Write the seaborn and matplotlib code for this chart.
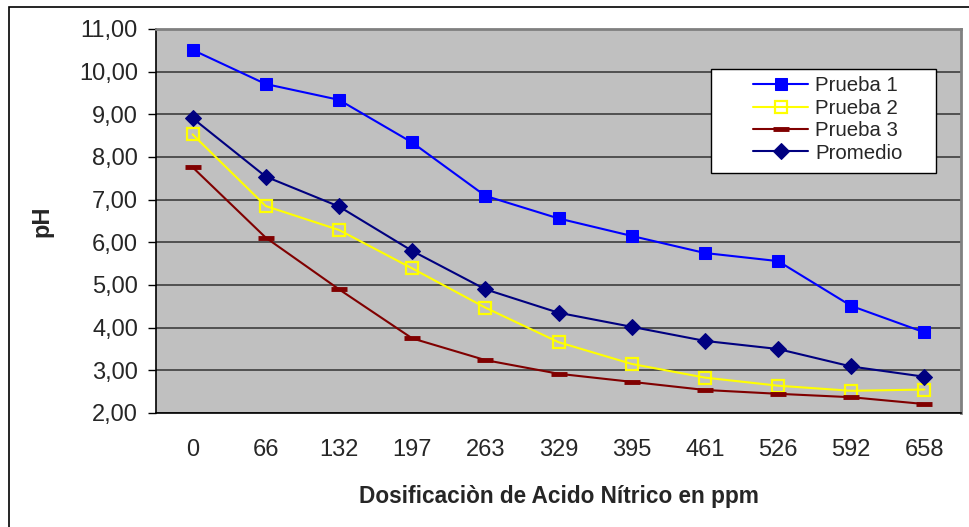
import matplotlib
matplotlib.use("Agg")
import matplotlib.pyplot as plt
from matplotlib.patches import Rectangle
from matplotlib.ticker import FixedLocator, FuncFormatter
import seaborn as sns
import pandas as pd

# Dosificación de ácido nítrico (ppm) y pH medido en cada prueba
dosis = ["0", "66", "132", "197", "263", "329", "395", "461", "526", "592", "658"]
prueba_1 = [10.51, 9.71, 9.34, 8.34, 7.09, 6.56, 6.15, 5.75, 5.56, 4.51, 3.89]
prueba_2 = [8.53, 6.85, 6.29, 5.39, 4.47, 3.66, 3.15, 2.83, 2.64, 2.52, 2.55]
prueba_3 = [7.76, 6.11, 4.90, 3.75, 3.24, 2.92, 2.73, 2.54, 2.45, 2.37, 2.21]
promedio = [8.91, 7.54, 6.84, 5.80, 4.90, 4.35, 4.02, 3.69, 3.50, 3.09, 2.85]

sns.set_theme(style="white")
plt.rcParams["font.family"] = ["Liberation Sans", "DejaVu Sans"]

fig = plt.figure(figsize=(9.7, 5.27), dpi=100)
ax = fig.add_axes([156 / 970, 1 - 413 / 527, (961 - 156) / 970, (413 - 29) / 527])
ax.set_facecolor("#C0C0C0")

series = [
    ("Prueba 1", prueba_1, dict(color="#0000FF", marker="s", markersize=8,
                                markerfacecolor="#0000FF", markeredgecolor="#0000FF")),
    ("Prueba 2", prueba_2, dict(color="#FFFF00", marker="s", markersize=8,
                                markerfacecolor="none", markeredgecolor="#FFFF00",
                                markeredgewidth=1.6)),
    ("Prueba 3", prueba_3, dict(color="#800000", marker="_", markersize=11,
                                markeredgecolor="#800000", markeredgewidth=3.5)),
    ("Promedio", promedio, dict(color="#000080", marker="D", markersize=8,
                                markerfacecolor="#000080", markeredgecolor="#000080")),
]

for nombre, valores, estilo in series:
    df = pd.DataFrame({"dosis": dosis, "pH": valores})
    sns.lineplot(data=df, x="dosis", y="pH", ax=ax, label=nombre, linewidth=1.5,
                 sort=False, zorder=3, **estilo)

# Ejes
ax.set_xlim(-0.5, len(dosis) - 0.5)
ax.set_ylim(2, 11)
ax.yaxis.set_major_locator(FixedLocator(range(2, 12)))
ax.yaxis.set_major_formatter(FuncFormatter(lambda v, p: f"{v:.2f}".replace(".", ",")))
ax.grid(axis="y", color="#333333", linewidth=1.1)
ax.grid(axis="x", visible=False)
ax.set_axisbelow(True)

ax.set_xticks(range(len(dosis)))
ax.set_xticklabels(dosis)
ax.set_xticks([i - 0.5 for i in range(len(dosis) + 1)], minor=True)
ax.tick_params(axis="x", which="major", length=0, pad=19, labelsize=17)
ax.tick_params(axis="x", which="minor", length=6, width=1, color="black", direction="out")
ax.tick_params(axis="y", which="major", length=6, width=1, color="black",
               direction="out", labelsize=17, pad=7, left=True)

for lado in ("left", "bottom"):
    ax.spines[lado].set_color("black")
    ax.spines[lado].set_linewidth(1.2)
for lado in ("top", "right"):
    ax.spines[lado].set_color("#808080")
    ax.spines[lado].set_linewidth(2)

ax.set_xlabel("Dosificaciòn de Acido Nítrico en ppm", fontsize=16.3,
              fontweight="bold", labelpad=17)
ax.set_ylabel("pH", fontsize=17, fontweight="bold", labelpad=18)

# Leyenda con marco propio (relleno holgado a la izquierda)
ax.add_patch(Rectangle((0.6894, 0.625), 0.9689 - 0.6894, 0.8958 - 0.625,
                       transform=ax.transAxes, facecolor="white", edgecolor="black",
                       linewidth=1, zorder=4))
leg = ax.legend(loc="upper left", bbox_to_anchor=(0.7416, 0.877), fontsize=14.7,
                frameon=False, handlelength=2.7, handletextpad=0.35,
                labelspacing=0.17, borderpad=0, borderaxespad=0)
leg.set_zorder(5)

# Marco exterior del gráfico
fig.patches.append(Rectangle((9 / 970, -0.05), 1.2, 1 - 7 / 527 + 0.05,
                             transform=fig.transFigure, fill=False,
                             edgecolor="black", linewidth=1.2))

fig.savefig("out.png", dpi=100, facecolor="white")
